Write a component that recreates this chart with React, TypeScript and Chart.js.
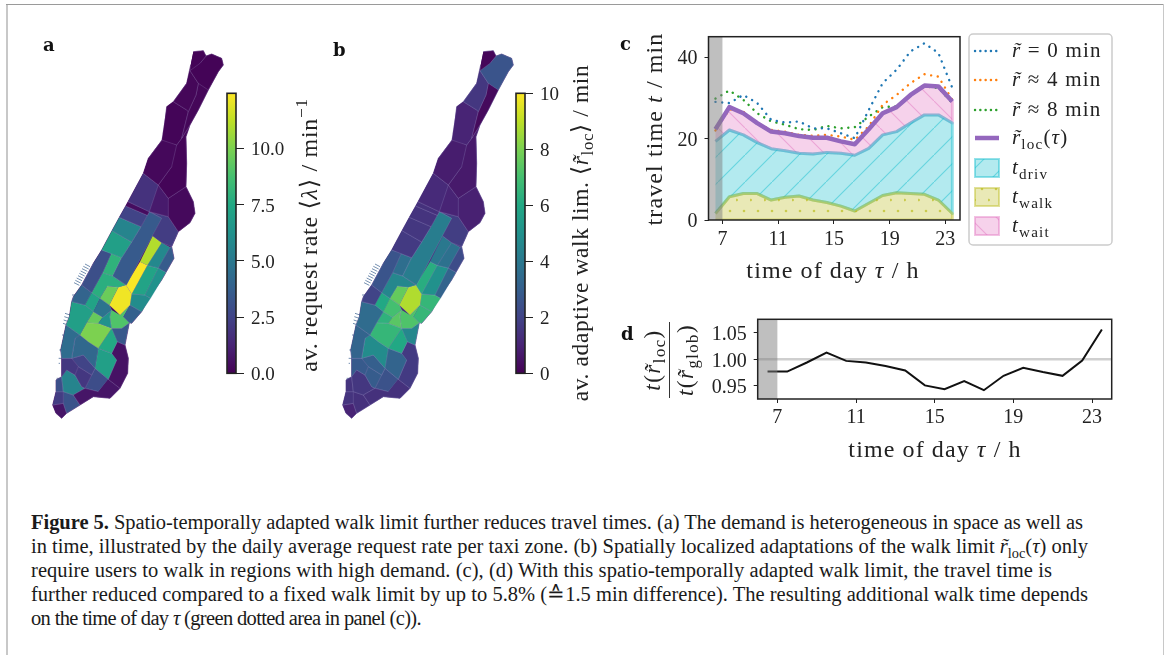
import React, { useEffect, useRef } from "react";
import { Chart, registerables } from "chart.js";

Chart.register(...registerables);

// ---------- data: panel c / d ----------
const hours = [6.5, 7.5, 8.5, 9.5, 10.5, 11.5, 12.5, 13.5, 14.5, 15.5, 16.5, 17.5, 18.5, 19.5, 20.5, 21.5, 22.5, 23.5];
const tickHours = [7, 11, 15, 19, 23];
const bandHours = [6, 7];
const r0Min = [29, 28.7, 30.7, 28.7, 24.6, 23.9, 24.2, 22.5, 22.5, 21.3, 20.1, 27, 33.6, 36.9, 41.4, 43.4, 41, 32.4];
const r4Min = [22, 27.2, 26.6, 23.8, 22.1, 21.7, 20.9, 20.7, 20.9, 20.5, 19.7, 23, 28.3, 30.7, 33.6, 35.8, 35.2, 29.5];
const r8Min = [29.8, 31.8, 29.5, 26.2, 24.2, 23.4, 22.3, 22.1, 23.1, 22.5, 22.8, 25.4, 27.7, 27.9, 30.7, 32.8, 32.4, 28.7];
const rLocTotal = [22.3, 27.7, 26.2, 23.8, 21.7, 21.3, 20.6, 20.2, 20.2, 19.3, 18.6, 22.3, 26.2, 27.7, 30.7, 33, 32.8, 29.1];
const drivTop = [19.3, 22.1, 20.9, 19, 17.5, 17, 16.4, 16.2, 16.6, 16.4, 15.9, 17.6, 20.9, 21.7, 23.8, 25.8, 25.8, 23.8];
const walkTop = [1.6, 5.7, 6.5, 6.5, 4.9, 5.6, 5.9, 4.9, 4.3, 3.4, 2.2, 4.1, 6, 6.7, 6.5, 6.3, 4.9, 1.6];
const ratio = [0.977, 0.977, 0.994, 1.0125, 0.997, 0.994, 0.9875, 0.979, 0.951, 0.944, 0.959, 0.942, 0.969, 0.984, 0.976, 0.969, 0.9975, 1.056];
const ratioTicks = [0.95, 1.0, 1.05];
const travelTicks = [0, 20, 40];

// ---------- data: panels a / b, taxi zones in map units ----------
const islandOutline = [490,65,520,62,528,78,545,72,575,85,580,105,565,125,535,180,505,240,480,285,468,320,470,400,468,470,490,515,495,550,480,578,445,605,425,650,432,685,395,750,360,800,335,845,305,880,298,878,285,945,295,985,293,1030,270,1075,240,1105,190,1100,150,1125,110,1150,95,1165,78,1150,68,1125,78,1085,78,1050,95,1040,95,985,92,960,108,885,118,860,125,815,130,800,155,765,190,700,215,660,246,602,268,562,287,528,294,515,340,430,355,385,400,325,410,230,430,215,470,160,482,105];
const zoneShapes = [
  [490,65,520,62,528,78,510,100,480,122,482,105],
  [510,100,528,78,545,72,575,85,580,105,565,125,535,180,505,160,480,122],
  [480,122,505,160,498,195,475,245,470,240,430,215,470,160],
  [535,180,505,240,480,285,455,325,475,245,498,195,505,160],
  [430,215,470,240,475,245,455,325,440,345,395,330,410,230],
  [355,385,400,325,440,345,425,410,385,465,340,430],
  [440,345,455,325,480,285,468,320,470,400,468,470,415,505,385,465,425,410],
  [340,430,385,465,358,545,294,515],
  [385,465,415,505,415,560,358,545],
  [415,505,468,470,490,515,495,550,480,578,445,605,415,560],
  [294,515,358,545,352,556,287,528],
  [287,528,352,556,333,590,268,562],
  [268,562,333,590,305,636,246,602],
  [246,602,305,636,275,683,215,660],
  [352,556,358,545,395,565,290,765,248,738,275,683,305,636,333,590],
  [395,565,358,545,415,560,445,605,425,650,395,638,368,618],
  [368,618,395,638,352,706,330,695],
  [330,695,352,706,305,792,288,765],
  [395,638,420,652,385,714,352,706],
  [420,652,425,650,432,685,408,727,385,714],
  [352,706,385,714,345,795,305,792],
  [385,714,408,727,395,750,362,805,345,795],
  [215,660,245,668,218,728,185,788,155,765,190,700],
  [245,668,215,660,275,683,248,738,218,728],
  [218,728,248,738,288,765,265,772,232,768,210,805,185,788],
  [232,768,265,772,238,825,210,805],
  [265,772,288,765,305,792,300,825,270,855,238,825],
  [305,792,345,795,362,805,335,845,300,825],
  [300,825,335,845,305,880,298,878,280,860],
  [270,855,300,825,280,860,298,878,275,895,245,895,240,860,245,840],
  [210,805,238,825,245,840,218,862,190,845],
  [218,862,245,840,240,860,245,895,205,880],
  [185,788,210,805,190,845,165,825],
  [155,765,185,788,165,825,125,815,130,800],
  [125,815,165,825,190,845,170,878,150,915,108,885,118,860],
  [190,845,218,862,205,880,170,878],
  [170,878,205,880,245,895,205,955,175,935,150,915],
  [245,895,262,935,245,970,205,955],
  [245,895,275,895,298,878,285,945,262,935],
  [108,885,150,915,135,925,125,985,95,985,92,960],
  [150,915,175,935,205,955,195,1015,160,975,125,985,135,925],
  [205,955,245,970,260,990,235,1048,195,1015],
  [245,970,262,935,285,945,295,985,293,1030,270,1075,235,1048,260,990],
  [235,1048,270,1075,240,1105,190,1100,150,1125,130,1095,165,1075,205,1085],
  [95,985,125,985,145,1010,135,1035,110,1020,95,1040],
  [125,985,160,975,195,1015,185,1035,145,1010],
  [145,1010,185,1035,165,1075,155,1070,135,1035],
  [185,1035,195,1015,235,1048,205,1085,165,1075],
  [110,1020,135,1035,155,1070,165,1075,130,1095,100,1085,95,1040],
  [78,1050,95,1040,100,1085,78,1085],
  [78,1085,100,1085,100,1120,68,1125],
  [100,1085,130,1095,150,1125,110,1150,100,1120],
  [68,1125,100,1120,110,1150,95,1165,78,1150],
];
const requestRate = [0.1,0.1,0.2,0.2,0.15,0.25,0.15,1.8,0.9,0.3,0.4,2.5,5.6,7,3.5,2.2,11,12.4,5.8,3.6,7.2,6.3,3,8,7.8,9.6,12.2,6,3.8,9,4.8,6.3,7.2,4,7,9.5,10,7.5,3.4,4.4,4.2,7,0.6,0.7,2,2.5,2,2.9,5.6,3,2.2,3.2,0.7];
const walkLimit = [0.15,2.6,1.6,0.25,1,0.8,0.7,1.2,1,0.9,1.4,1.5,1.6,1.7,4.2,1.8,4,6.2,3.7,2.3,5,3.2,2.6,3.6,4.6,7.6,8.8,6.6,6.6,7.2,7,7.4,6,2,3.5,6.4,6.6,6,4.6,3.2,4.8,3.2,1.7,1.4,2.8,3,2.9,2.5,1.6,1.5,1.5,1.4,1];
const pierLines = [
  [180,710,165,702],[176,717,160,709],[172,724,156,716],[168,731,152,723],[164,738,148,730],[160,745,144,737],[156,752,140,744],[152,759,136,751],[148,766,132,758],[142,795,126,795],
  [120,855,105,850],[118,865,103,860],[116,875,101,870],[114,885,99,880],[110,915,96,915],[96,960,88,960],[96,985,86,985],[90,1000,86,1000],[80,1045,88,1045],
];

const viridisStops = ["#440154","#482475","#414487","#355f8d","#2a788e","#21918c","#22a884","#44bf70","#7ad151","#bddf26","#fde725"];

const requestTicks = [0, 2.5, 5, 7.5, 10];
const walkTicks = [0, 2, 4, 6, 8, 10];

const captionEnds = [1083, 1088, 1052, 1088, 421];

// ---------- helpers ----------
const SERIF = '"Liberation Serif","DejaVu Serif",serif';
type Run = { t: string; i?: boolean; s?: "sub" | "sup" };
type Rich = { x: number; y: number; size: number; rotate?: boolean; spacing?: number; runs: Run[] };

function hexRgb(h: string) {
  return [1, 3, 5].map((k) => parseInt(h.slice(k, k + 2), 16));
}
function viridis(t: number) {
  const c = Math.max(0, Math.min(0.9999, t)) * (viridisStops.length - 1);
  const k = Math.floor(c);
  const a = hexRgb(viridisStops[k]);
  const b = hexRgb(viridisStops[k + 1]);
  const m = a.map((v, j) => Math.round(v + (b[j] - v) * (c - k)));
  return `rgb(${m[0]},${m[1]},${m[2]})`;
}
function runSize(r: Run, size: number) {
  return r.s ? size * 0.72 : size;
}
function setFont(ctx: CanvasRenderingContext2D, r: Run, size: number) {
  ctx.font = `${r.i ? "italic " : ""}${runSize(r, size)}px ${SERIF}`;
}
function richWidth(ctx: CanvasRenderingContext2D, it: { size: number; spacing?: number; runs: Run[] }) {
  ctx.save();
  (ctx as any).letterSpacing = `${it.spacing ?? 0}px`;
  let w = 0;
  for (const r of it.runs) {
    setFont(ctx, r, it.size);
    w += ctx.measureText(r.t).width;
  }
  ctx.restore();
  return w;
}
function drawRich(ctx: CanvasRenderingContext2D, it: Rich, ox: number, oy: number) {
  const w = richWidth(ctx, it);
  ctx.save();
  ctx.fillStyle = "#222";
  ctx.textAlign = "left";
  ctx.textBaseline = "alphabetic";
  (ctx as any).letterSpacing = `${it.spacing ?? 0}px`;
  ctx.translate(it.x - ox, it.y - oy);
  if (it.rotate) ctx.rotate(-Math.PI / 2);
  let x = -w / 2;
  for (const r of it.runs) {
    setFont(ctx, r, it.size);
    const dy = r.s === "sub" ? it.size * 0.22 : r.s === "sup" ? -it.size * 0.42 : 0;
    ctx.fillText(r.t, x, dy);
    x += ctx.measureText(r.t).width;
  }
  ctx.restore();
}
const richPlugin = (items: Rich[], ox: number, oy: number) => ({
  id: "richText",
  afterDraw(chart: any) {
    items.forEach((it) => drawRich(chart.ctx, it, ox, oy));
  },
});
const framePlugin = (lineWidth = 1.5) => ({
  id: "frame",
  afterDatasetsDraw(chart: any) {
    const { ctx, chartArea: a } = chart;
    ctx.save();
    ctx.strokeStyle = "#222";
    ctx.lineWidth = lineWidth;
    ctx.strokeRect(a.left, a.top, a.right - a.left, a.bottom - a.top);
    ctx.restore();
  },
});
function makeHatch(w: number, h: number, draw: (c: CanvasRenderingContext2D) => void, ctx: CanvasRenderingContext2D) {
  const tile = document.createElement("canvas");
  tile.width = w;
  tile.height = h;
  draw(tile.getContext("2d")!);
  return ctx.createPattern(tile, "repeat")!;
}
const pts = (xs: number[], ys: number[]) => xs.map((x, i) => ({ x, y: ys[i] }));
const poly = (flat: number[]) => {
  const out: { x: number; y: number }[] = [];
  for (let i = 0; i < flat.length; i += 2) out.push({ x: flat[i], y: flat[i + 1] });
  return out;
};
const areaBetween = (upper: number[], lower: number[]) => [
  ...pts(hours, upper),
  ...pts(hours, lower).reverse(),
];
const bandShape = (lo: number, hi: number) => [
  { x: bandHours[0], y: lo },
  { x: bandHours[1], y: lo },
  { x: bandHours[1], y: hi },
  { x: bandHours[0], y: hi },
];
const basePlugins = { legend: { display: false }, tooltip: { enabled: false } };
const tickFont = (size: number) => ({ family: SERIF, size });
function fixedX(s: any, v: number) {
  s.height = v;
  s.paddingLeft = s.paddingRight = s.paddingTop = s.paddingBottom = 0;
}
function fixedY(s: any, v: number) {
  s.width = v;
  s.paddingLeft = s.paddingRight = s.paddingTop = s.paddingBottom = 0;
}

// ---------- canvases ----------
function useChart(make: (cv: HTMLCanvasElement) => Chart) {
  const ref = useRef<HTMLCanvasElement>(null);
  useEffect(() => {
    const c = make(ref.current!);
    return () => c.destroy();
  }, []);
  return ref;
}
function Cv({ box, make }: { box: number[]; make: (cv: HTMLCanvasElement) => Chart }) {
  const ref = useChart(make);
  return (
    <canvas
      ref={ref}
      width={box[2]}
      height={box[3]}
      style={{ position: "absolute", left: box[0], top: box[1], width: box[2], height: box[3], display: "block" }}
    />
  );
}

function mapChart(cv: HTMLCanvasElement, values: number[], vmax: number, baseValue: number) {
  const datasets: any[] = [];
  const piersData: any[] = [];
  pierLines.forEach((s) => {
    piersData.push({ x: s[0], y: s[1] }, { x: s[2], y: s[3] }, { x: null, y: null });
  });
  zoneShapes.forEach((z, i) => {
    const col = viridis(values[i] / vmax);
    datasets.push({
      data: poly(z),
      showLine: true,
      fill: "shape",
      backgroundColor: col,
      borderColor: "rgba(190,190,230,0.3)",
      borderWidth: 0.6,
      borderDash: [2000, 1],
      pointRadius: 0,
    });
  });
  datasets.push({
    data: poly(islandOutline),
    showLine: true,
    fill: "shape",
    backgroundColor: viridis(baseValue / vmax),
    borderColor: viridis(baseValue / vmax),
    borderWidth: 0.6,
    borderDash: [2000, 1],
    pointRadius: 0,
  });
  datasets.push({
    data: piersData,
    showLine: true,
    fill: false,
    borderColor: "rgba(70,105,150,0.75)",
    borderWidth: 1,
    pointRadius: 0,
    spanGaps: false,
  });
  return new Chart(cv, {
    type: "scatter",
    data: { datasets },
    options: {
      animation: false,
      responsive: false,
      events: [],
      layout: { padding: 0 },
      plugins: basePlugins,
      scales: {
        x: { type: "linear", display: false, min: 0, max: 600 },
        y: { type: "linear", display: false, min: 0, max: 1200, reverse: true },
      },
    } as any,
  });
}

function colorbarChart(cv: HTMLCanvasElement, vmax: number, ticks: number[], digits: number, box: number[], title: Rich) {
  const barW = 9;
  const barLeft = box[4];
  const top = 93.3 - box[1];
  const bottom = 373.3 - box[1];
  return new Chart(cv, {
    type: "bar",
    data: {
      labels: ["cb"],
      datasets: [
        {
          data: [[0, vmax]],
          barPercentage: 1,
          categoryPercentage: 1,
          backgroundColor: (c: any) => {
            const a = c.chart.chartArea;
            if (!a) return "#440154";
            const g = c.chart.ctx.createLinearGradient(0, a.bottom, 0, a.top);
            viridisStops.forEach((s, i) => g.addColorStop(i / (viridisStops.length - 1), s));
            return g;
          },
        },
      ],
    },
    options: {
      animation: false,
      responsive: false,
      events: [],
      layout: { padding: { left: barLeft - box[0], top, bottom: 0, right: 0 } },
      plugins: basePlugins,
      scales: {
        x: { display: true, afterFit: (s: any) => fixedX(s, box[3] - bottom), ticks: { display: false }, grid: { display: false }, border: { display: false } },
        y: {
          position: "right",
          min: 0,
          max: vmax,
          afterFit: (s: any) => fixedY(s, box[2] - (barLeft - box[0]) - barW),
          afterBuildTicks: (s: any) => { s.ticks = ticks.map((value) => ({ value })); },
          ticks: { font: tickFont(19), color: "#222", padding: 7, labelOffset: 2, callback: (v: any) => Number(v).toFixed(digits) },
          grid: { drawOnChartArea: false, tickColor: "#222", tickLength: 8, tickWidth: 1 },
          border: { display: false },
        },
      },
    } as any,
    plugins: [framePlugin(1.6), richPlugin([title], box[0], box[1])],
  });
}

const legendItems: { ds: number; kind: "line" | "area"; runs: Run[] }[] = [
  { ds: 2, kind: "line", runs: [{ t: "r\u0303", i: true }, { t: " = 0 min" }] },
  { ds: 3, kind: "line", runs: [{ t: "r\u0303", i: true }, { t: " \u2248 4 min" }] },
  { ds: 4, kind: "line", runs: [{ t: "r\u0303", i: true }, { t: " \u2248 8 min" }] },
  { ds: 1, kind: "line", runs: [{ t: "r\u0303", i: true }, { t: "loc", s: "sub" }, { t: "(" }, { t: "\u03c4", i: true }, { t: ")" }] },
  { ds: 6, kind: "area", runs: [{ t: "t", i: true }, { t: "driv", s: "sub" }] },
  { ds: 5, kind: "area", runs: [{ t: "t", i: true }, { t: "walk", s: "sub" }] },
  { ds: 7, kind: "area", runs: [{ t: "t", i: true }, { t: "wait", s: "sub" }] },
];
const legendRows = [51, 80, 110, 138, 168, 197, 226];

function travelChart(cv: HTMLCanvasElement) {
  const box = [610, 20, 510, 280];
  const ctx = cv.getContext("2d")!;
  const hatchDriv = makeHatch(27, 27, (c) => {
    c.fillStyle = "rgba(23,190,207,0.33)";
    c.fillRect(0, 0, 27, 27);
    c.strokeStyle = "rgba(23,190,207,0.5)";
    c.lineWidth = 1.1;
    c.beginPath();
    c.moveTo(-3, 30); c.lineTo(30, -3);
    c.stroke();
  }, ctx);
  const hatchWait = makeHatch(27, 27, (c) => {
    c.fillStyle = "rgba(227,119,194,0.33)";
    c.fillRect(0, 0, 27, 27);
    c.strokeStyle = "rgba(227,119,194,0.5)";
    c.lineWidth = 1.1;
    c.beginPath();
    c.moveTo(-3, -3); c.lineTo(30, 30);
    c.stroke();
  }, ctx);
  const hatchWalk = makeHatch(14, 22, (c) => {
    c.fillStyle = "rgba(188,189,34,0.33)";
    c.fillRect(0, 0, 14, 22);
    c.fillStyle = "rgba(188,189,34,0.7)";
    [[0.7, 4], [8, 15]].forEach(([x, y]) => {
      c.beginPath(); c.arc(x, y, 1.3, 0, 7); c.fill();
    });
  }, ctx);
  const dotted = (data: number[], color: string) => ({
    data: pts(hours, data),
    showLine: true,
    borderColor: color,
    borderWidth: 2.4,
    borderDash: [0.1, 6.6],
    borderCapStyle: "round",
    pointRadius: 0,
    fill: false,
  });
  const area = (data: any[], bg: any, edge: string) => ({
    data,
    showLine: true,
    fill: "shape",
    backgroundColor: bg,
    borderColor: edge,
    borderWidth: 3,
    borderJoinStyle: "round",
    pointRadius: 0,
  });
  const titles: Rich[] = [
    { x: 833, y: 278, size: 24, spacing: 1.1, runs: [{ t: "time of day " }, { t: "\u03c4", i: true }, { t: " / h" }] },
    { x: 662, y: 129, size: 24, rotate: true, spacing: 1.1, runs: [{ t: "travel time " }, { t: "t", i: true }, { t: " / min" }] },
  ];
  const legendPlugin = {
    id: "panelLegend",
    afterDraw(chart: any) {
      const c = chart.ctx as CanvasRenderingContext2D;
      c.save();
      c.strokeStyle = "#ccc";
      c.lineWidth = 1.5;
      c.fillStyle = "#fff";
      c.beginPath();
      (c as any).roundRect(969 - box[0], 34 - box[1], 143, 211, 4);
      c.fill();
      c.stroke();
      legendItems.forEach((it, i) => {
        const y = legendRows[i] - box[1];
        const d = chart.data.datasets[it.ds];
        if (it.kind === "line") {
          c.save();
          c.strokeStyle = d.borderColor;
          c.lineWidth = d.borderWidth;
          c.setLineDash(d.borderDash ? [0.1, 5.2] : []);
          c.lineCap = d.borderDash ? "round" : "butt";
          c.beginPath();
          c.moveTo(975 - box[0], y);
          c.lineTo(999 - box[0], y);
          c.stroke();
          c.restore();
        } else {
          c.save();
          c.fillStyle = d.backgroundColor;
          c.fillRect(975 - box[0], y - 9, 24, 18);
          c.strokeStyle = d.borderColor;
          c.lineWidth = 2;
          c.strokeRect(975 - box[0], y - 9, 24, 18);
          c.restore();
        }
        const spec = { size: 21, spacing: 1.2, runs: it.runs };
        const width = richWidth(c, spec);
        drawRich(c, { ...spec, x: 1012 + width / 2, y: legendRows[i] + 6 }, box[0], box[1]);
      });
      c.restore();
    },
  };
  return new Chart(cv, {
    type: "scatter",
    data: {
      datasets: [
        { data: bandShape(0, 45), showLine: true, fill: "shape", backgroundColor: "rgba(127,127,127,0.5)", borderColor: "rgba(0,0,0,0)", borderWidth: 0, pointRadius: 0 },
        { data: pts(hours, rLocTotal), showLine: true, borderColor: "#9467bd", borderWidth: 4.5, pointRadius: 0, fill: false, borderJoinStyle: "round" },
        dotted(r0Min, "#1f77b4"),
        dotted(r4Min, "#ff7f0e"),
        dotted(r8Min, "#2ca02c"),
        area(areaBetween(walkTop, walkTop.map(() => 0)), hatchWalk, "rgba(188,189,34,0.45)"),
        area(areaBetween(drivTop, walkTop), hatchDriv, "rgba(23,190,207,0.45)"),
        area(areaBetween(rLocTotal, drivTop), hatchWait, "rgba(227,119,194,0.45)"),
      ],
    },
    options: {
      animation: false,
      responsive: false,
      events: [],
      layout: { padding: { left: 0, top: 16.7, right: 1120 - 960, bottom: 0 } },
      plugins: basePlugins,
      scales: {
        x: {
          type: "linear",
          min: 6,
          max: 24.05,
          afterFit: (s: any) => fixedX(s, 280 - 200),
          afterBuildTicks: (s: any) => { s.ticks = tickHours.map((value) => ({ value })); },
          ticks: { font: tickFont(20), color: "#222", padding: 4, maxRotation: 0, callback: (v: any) => String(v) },
          grid: { drawOnChartArea: false, tickColor: "#222", tickLength: 4, tickWidth: 1 },
          border: { display: false },
        },
        y: {
          type: "linear",
          min: 0,
          max: 45,
          afterFit: (s: any) => fixedY(s, 98.5),
          afterBuildTicks: (s: any) => { s.ticks = travelTicks.map((value) => ({ value })); },
          ticks: { font: tickFont(20), color: "#222", padding: 7, labelOffset: 2, callback: (v: any) => String(v) },
          grid: { drawOnChartArea: false, tickColor: "#222", tickLength: 4, tickWidth: 1 },
          border: { display: false },
        },
      },
    } as any,
    plugins: [framePlugin(1.5), richPlugin(titles, box[0], box[1]), legendPlugin],
  });
}

function ratioChart(cv: HTMLCanvasElement) {
  const box = [630, 305, 490, 165];
  const titles: Rich[] = [
    { x: 935, y: 457, size: 24, spacing: 1.1, runs: [{ t: "time of day " }, { t: "\u03c4", i: true }, { t: " / h" }] },
    { x: 660, y: 360, size: 23, spacing: 1.5, rotate: true, runs: [{ t: "t", i: true }, { t: "(" }, { t: "r\u0303", i: true }, { t: "loc", s: "sub" }, { t: ")" }] },
    { x: 693, y: 360, size: 23, spacing: 1.5, rotate: true, runs: [{ t: "t", i: true }, { t: "(" }, { t: "r\u0303", i: true }, { t: "glob", s: "sub" }, { t: ")" }] },
  ];
  const fractionBar = {
    id: "fractionBar",
    afterDraw(chart: any) {
      const c = chart.ctx;
      c.save();
      c.strokeStyle = "#333";
      c.lineWidth = 1;
      c.beginPath();
      c.moveTo(669.5 - box[0], 322 - box[1]);
      c.lineTo(669.5 - box[0], 398 - box[1]);
      c.stroke();
      c.restore();
    },
  };
  return new Chart(cv, {
    type: "scatter",
    data: {
      datasets: [
        { data: bandShape(0.9255, 1.075), showLine: true, fill: "shape", backgroundColor: "rgba(127,127,127,0.5)", borderColor: "rgba(0,0,0,0)", borderWidth: 0, pointRadius: 0 },
        { data: pts(hours, ratio), showLine: true, borderColor: "#111", borderWidth: 2, pointRadius: 0, fill: false },
        { data: [{ x: 6, y: 1 }, { x: 24, y: 1 }], showLine: true, borderColor: "#cfcfcf", borderWidth: 2.4, pointRadius: 0, fill: false },
      ],
    },
    options: {
      animation: false,
      responsive: false,
      events: [],
      layout: { padding: { left: 0, top: 319.3 - box[1], right: box[0] + box[2] - 1111.7, bottom: 0 } },
      plugins: basePlugins,
      scales: {
        x: {
          type: "linear",
          min: 6,
          max: 24,
          afterFit: (s: any) => fixedX(s, box[1] + box[3] - 399),
          afterBuildTicks: (s: any) => { s.ticks = tickHours.map((value) => ({ value })); },
          ticks: { font: tickFont(20), color: "#222", padding: 3, maxRotation: 0, callback: (v: any) => String(v) },
          grid: { drawOnChartArea: false, tickColor: "#222", tickLength: 4, tickWidth: 1 },
          border: { display: false },
        },
        y: {
          type: "linear",
          min: 0.9255,
          max: 1.075,
          afterFit: (s: any) => fixedY(s, 757.7 - box[0]),
          afterBuildTicks: (s: any) => { s.ticks = ratioTicks.map((value) => ({ value })); },
          ticks: { font: tickFont(20), color: "#222", padding: 7, labelOffset: 2, callback: (v: any) => Number(v).toFixed(2) },
          grid: { drawOnChartArea: false, tickColor: "#222", tickLength: 4, tickWidth: 1 },
          border: { display: false },
        },
      },
    } as any,
    plugins: [framePlugin(1.5), richPlugin(titles, box[0], box[1]), fractionBar],
  });
}

const panelLabels: [string, number, number][] = [["a", 43, 36], ["b", 333, 41], ["c", 620, 35], ["d", 621, 325]];

const rt = <span style={{ fontStyle: "italic" }}>{"r\u0303"}</span>;
const tau = <span style={{ fontStyle: "italic" }}>{"\u03c4"}</span>;
const captionLines = [
  <><b>Figure 5.</b> Spatio-temporally adapted walk limit further reduces travel times. (a) The demand is heterogeneous in space as well as</>,
  <>in time, illustrated by the daily average request rate per taxi zone. (b) Spatially localized adaptations of the walk limit {rt}<sub style={{ fontSize: "70%", lineHeight: 0 }}>loc</sub>({tau}) only</>,
  <>require users to walk in regions with high demand. (c), (d) With this spatio-temporally adapted walk limit, the travel time is</>,
  <>further reduced compared to a fixed walk limit by up to 5.8% ({"\u2259"}1.5 min difference). The resulting additional walk time depends</>,
  <>on the time of day {tau} (green dotted area in panel (c)).</>,
];

function Caption() {
  const refs = useRef<(HTMLDivElement | null)[]>([]);
  useEffect(() => {
    refs.current.forEach((el, i) => {
      if (!el) return;
      const span = el.firstElementChild as HTMLElement;
      const w = span.getBoundingClientRect().width;
      const target = captionEnds[i] - 31;
      const gaps = (span.textContent || "").length;
      span.style.letterSpacing = `${(target - w) / gaps}px`;
    });
  }, []);
  return (
    <>
      {captionLines.map((l, i) => (
        <div
          key={i}
          ref={(e) => { refs.current[i] = e; }}
          style={{ position: "absolute", left: 31, top: 511 + i * 24.1, whiteSpace: "nowrap", font: `20.5px/22px ${SERIF}`, color: "#1a1a1a" }}
        >
          <span>{l}</span>
        </div>
      ))}
    </>
  );
}

export default function App() {
  const cbABox = [215, 85, 115, 300, 227];
  const cbBBox = [505, 55, 95, 360, 516];
  return (
    <div style={{ position: "absolute", left: 0, top: 0, width: 1167, height: 655, overflow: "hidden", background: "#fff", filter: "blur(0.4px)" }}>
      <div style={{ position: "absolute", left: 6, top: 4, width: 2, height: 651, background: "#c8c8c8" }} />
      <div style={{ position: "absolute", left: 6, top: 4, width: 1158, height: 1, background: "#9a9a9a" }} />
      <div style={{ position: "absolute", left: 1163, top: 4, width: 1, height: 651, background: "#c8c8c8" }} />
      <Cv box={[30, 30, 200, 400]} make={(c) => mapChart(c, requestRate, 12.45, 0.4)} />
      <Cv box={[320, 30, 200, 400]} make={(c) => mapChart(c, walkLimit, 10, 1.3)} />
      <Cv
        box={cbABox}
        make={(c) =>
          colorbarChart(c, 12.45, requestTicks, 1, cbABox, {
            x: 317, y: 235, size: 24, rotate: true, spacing: 0.7,
            runs: [{ t: "av. request rate \u27e8" }, { t: "\u03bb", i: true }, { t: "\u27e9 / min" }, { t: "\u22121", s: "sup" }],
          })
        }
      />
      <Cv
        box={cbBBox}
        make={(c) =>
          colorbarChart(c, 10, walkTicks, 0, cbBBox, {
            x: 588, y: 233, size: 23.5, rotate: true, spacing: 0.6,
            runs: [{ t: "av. adaptive walk lim. \u27e8" }, { t: "r\u0303", i: true }, { t: "loc", s: "sub" }, { t: "\u27e9 / min" }],
          })
        }
      />
      <Cv box={[610, 20, 510, 280]} make={travelChart} />
      <Cv box={[630, 305, 490, 165]} make={ratioChart} />
      {panelLabels.map(([t, x, y]) => (
        <div key={t} style={{ position: "absolute", left: x, top: y, font: `bold 18px/18px "DejaVu Serif",serif`, color: "#111" }}>{t}</div>
      ))}
      <Caption />
    </div>
  );
}
